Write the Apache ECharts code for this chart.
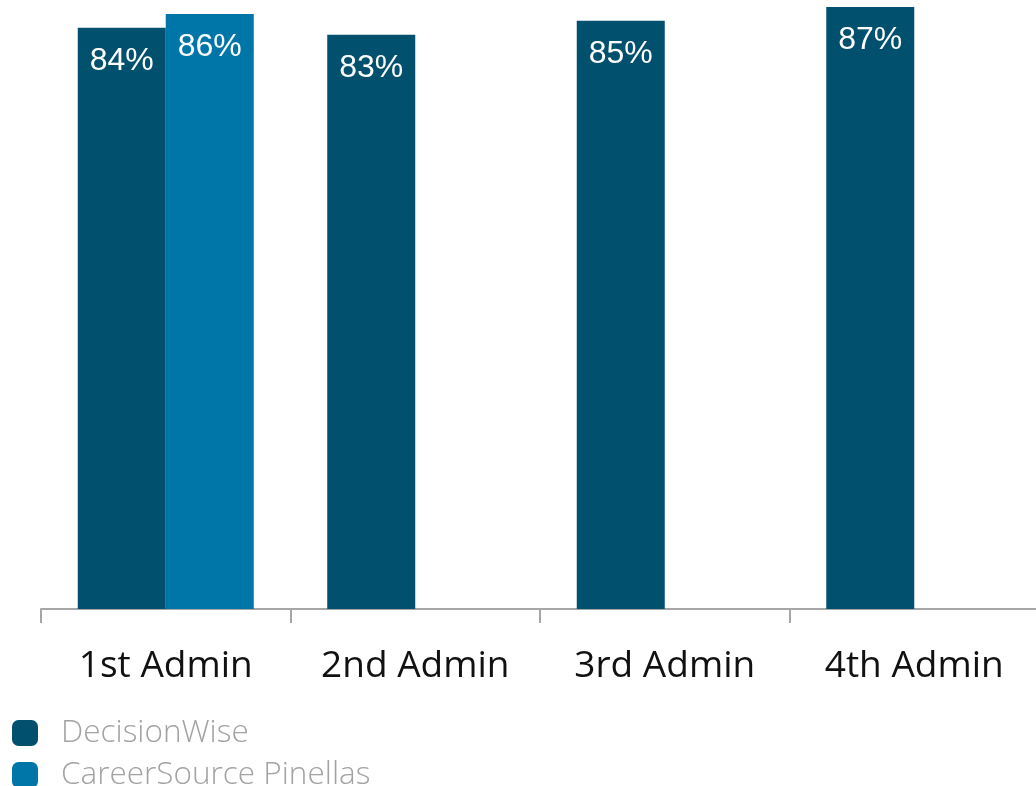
<!DOCTYPE html>
<html>
<head>
<meta charset="utf-8">
<script src="https://cdn.jsdelivr.net/npm/echarts@6/dist/echarts.min.js"></script>
<style>
  html, body { margin: 0; padding: 0; background: #ffffff; overflow: hidden; }
  /* the plot runs a few pixels past the right edge of the window */
  #chart { width: 1046px; height: 786px; }
</style>
</head>
<body>
<div id="chart"></div>
<script>
// Administrations along the x axis
const categories = ['1st Admin', '2nd Admin', '3rd Admin', '4th Admin'];
// Percent scores per administration
const decisionWise = [84, 83, 85, 87];
const careerSource = [86, null, null, null];
const seriesNames = ['DecisionWise', 'CareerSource Pinellas'];
const seriesColors = ['#00506E', '#0075A8'];

const chart = echarts.init(document.getElementById('chart'), null, { renderer: 'canvas' });

const valueLabel = {
  show: true,
  position: 'insideTop',
  distance: 17,
  color: '#ffffff',
  fontFamily: 'Liberation Sans, Arial, sans-serif',
  fontSize: 32,
  formatter: p => p.value + '%'
};

// one legend entry per row, stacked in the bottom-left corner
const legendRow = (name, top) => ({
  orient: 'vertical',
  left: 12,
  top: top,
  padding: 0,
  itemWidth: 26,
  itemHeight: 26,
  icon: 'roundRect',
  textStyle: {
    color: '#A3A3A3',
    fontFamily: 'Open Sans, sans-serif',
    fontWeight: 300,
    fontSize: 31.5,
    padding: [0, 0, 12, 18]
  },
  data: [name]
});

chart.setOption({
  animation: false,
  grid: { left: 41, top: 7, width: 998, bottom: 177, containLabel: false },
  legend: [legendRow(seriesNames[0], 717), legendRow(seriesNames[1], 759)],
  xAxis: {
    type: 'category',
    data: categories,
    axisLine: { show: true, lineStyle: { color: '#A6A6A6', width: 2 } },
    axisTick: { show: true, length: 14, lineStyle: { color: '#A6A6A6', width: 2 } },
    axisLabel: {
      margin: 39,
      color: '#111111',
      fontFamily: 'Open Sans, sans-serif',
      fontSize: 37
    }
  },
  yAxis: {
    type: 'value',
    min: 0,
    max: 87,
    show: false,
    splitLine: { show: false }
  },
  series: [
    {
      name: seriesNames[0],
      type: 'bar',
      data: decisionWise,
      barWidth: 88,
      barGap: '0%',
      itemStyle: { color: seriesColors[0] },
      label: valueLabel
    },
    {
      name: seriesNames[1],
      type: 'bar',
      data: careerSource,
      barWidth: 88,
      barGap: '0%',
      itemStyle: { color: seriesColors[1] },
      label: valueLabel
    }
  ]
});
</script>
</body>
</html>
